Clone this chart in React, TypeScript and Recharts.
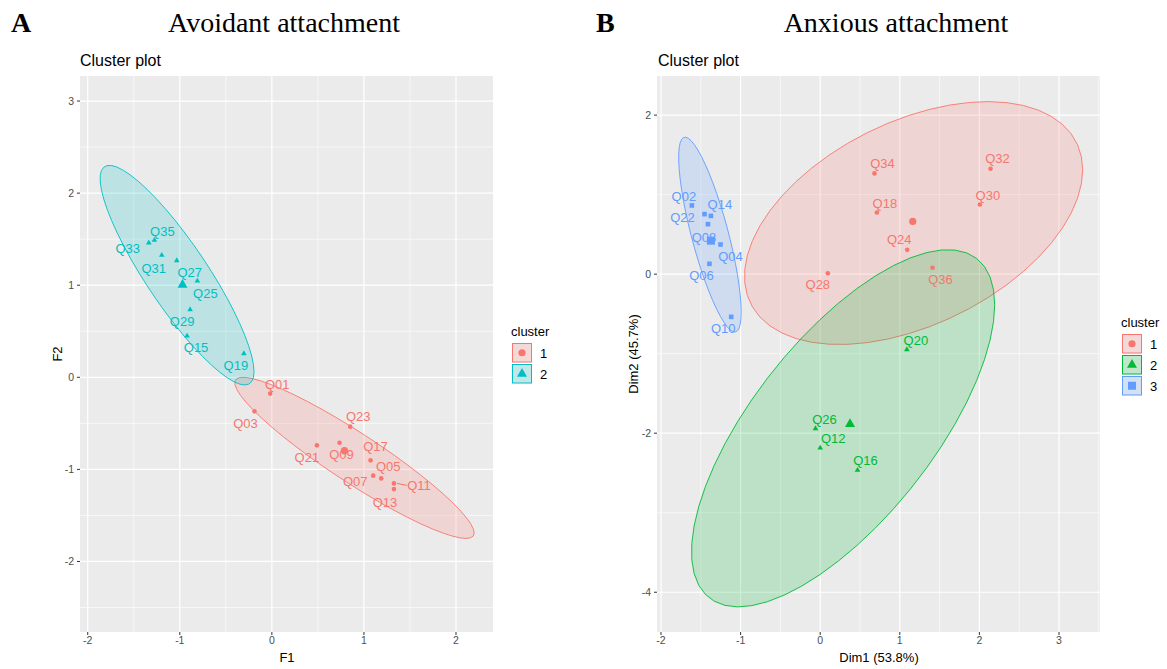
import React from 'react';
import { ScatterChart, Scatter, XAxis, YAxis, CartesianGrid } from 'recharts';

// ---- Avoidant attachment (F1 / F2) ----
const avoidLabels1 = ['Q01', 'Q03', 'Q23', 'Q21', 'Q09', 'Q17', 'Q07', 'Q05', 'Q11', 'Q13'];
const avoidX1 = [-0.018, -0.189, 0.851, 0.489, 0.735, 1.072, 1.101, 1.188, 1.326, 1.326];
const avoidY1 = [-0.177, -0.37, -0.536, -0.739, -0.71, -0.902, -1.068, -1.098, -1.152, -1.214];
const avoidLabels2 = ['Q35', 'Q33', 'Q31', 'Q27', 'Q25', 'Q29', 'Q15', 'Q19'];
const avoidX2 = [-1.276, -1.337, -1.196, -1.033, -0.809, -0.888, -0.921, -0.304];
const avoidY2 = [1.489, 1.46, 1.326, 1.268, 1.047, 0.736, 0.449, 0.258];

// ---- Anxious attachment (Dim1 / Dim2) ----
const anxLabels1 = ['Q34', 'Q32', 'Q30', 'Q18', 'Q24', 'Q36', 'Q28'];
const anxX1 = [0.682, 2.14, 2.006, 0.712, 1.093, 1.411, 0.096];
const anxY1 = [1.267, 1.325, 0.876, 0.776, 0.306, 0.08, 0.012];
const anxLabels2 = ['Q20', 'Q26', 'Q12', 'Q16'];
const anxX2 = [1.089, -0.059, 0, 0.469];
const anxY2 = [-0.948, -1.941, -2.185, -2.465];
const anxLabels3 = ['Q02', 'Q22', 'Q14', 'Q08', 'Q04', 'Q06', 'Q10'];
const anxX3 = [-1.612, -1.453, -1.373, -1.41, -1.252, -1.391, -1.118];
const anxY3 = [0.864, 0.755, 0.733, 0.629, 0.373, 0.13, -0.537];

const clusterNames2 = ['1', '2'];
const clusterNames3 = ['1', '2', '3'];
const avoidXTicks = [-2, -1, 0, 1, 2];
const avoidYTicks = [-2, -1, 0, 1, 2, 3];
const anxXTicks = [-2, -1, 0, 1, 2, 3];
const anxYTicks = [-4, -2, 0, 2];

// label placement (px, relative to point) - like ggrepel output
const labelOffset: Record<string, [number, number]> = {
  Q35: [8, -9], Q33: [-21, 6], Q31: [-8, 13], Q27: [13, 12], Q25: [8, 13], Q29: [-8, 12],
  Q15: [9, 12], Q19: [-8, 12], Q01: [7, -9], Q03: [-9, 12], Q23: [8, -10], Q21: [-10, 12],
  Q09: [2, 12], Q17: [5, -14], Q05: [7, -12], Q07: [-18, 6], Q11: [25, 2], Q13: [-9, 13],
  Q34: [8, -10], Q32: [7, -10], Q30: [8, -9], Q18: [8, -9], Q24: [-8, -10], Q36: [8, 12],
  Q28: [-10, 11], Q02: [-8, -9], Q14: [9, -11], Q22: [-22, 3], Q08: [-4, 13], Q04: [10, 12],
  Q06: [-8, 12], Q10: [-8, 12], Q20: [9, -9], Q26: [9, -9], Q12: [13, -9], Q16: [8, -10],
};

const RED = '#F8766D';
const FONT = '"Liberation Sans", Arial, sans-serif';
const SERIF = '"Liberation Serif", "Times New Roman", serif';

type Kind = 'circle' | 'triangle' | 'square';
type Pt = { x: number; y: number; label?: string };
type Cluster = { labels: string[]; xs: number[]; ys: number[]; color: string; kind: Kind };

const sum = (a: number[]) => a.reduce((s, v) => s + v, 0);
const mean = (a: number[]) => sum(a) / a.length;

// MASS::cov.trob (multivariate t), as used by stat_ellipse(type = "t")
function covTrob(xs: number[], ys: number[]) {
  const n = xs.length, p = 2, nu = 5, tol = 0.01;
  let lx = mean(xs), ly = mean(ys);
  let w = xs.map(() => 1);
  let dx: number[] = [], dy: number[] = [];
  for (let iter = 0; iter < 25; iter++) {
    const w0 = w;
    dx = xs.map(v => v - lx);
    dy = ys.map(v => v - ly);
    const sw = sum(w);
    let a = 0, b = 0, c = 0;
    for (let i = 0; i < n; i++) {
      const k = w[i] / sw;
      a += k * dx[i] * dx[i]; b += k * dx[i] * dy[i]; c += k * dy[i] * dy[i];
    }
    const det = a * c - b * b;
    const q = dx.map((u, i) => (c * u * u - 2 * b * u * dy[i] + a * dy[i] * dy[i]) / det);
    w = q.map(v => (nu + p) / (nu + v));
    const sw2 = sum(w);
    lx = sum(xs.map((v, i) => v * w[i])) / sw2;
    ly = sum(ys.map((v, i) => v * w[i])) / sw2;
    if (w.every((v, i) => Math.abs(v - w0[i]) < tol)) break;
  }
  let a = 0, b = 0, c = 0;
  for (let i = 0; i < n; i++) {
    a += w[i] * dx[i] * dx[i]; b += w[i] * dx[i] * dy[i]; c += w[i] * dy[i] * dy[i];
  }
  return { cx: lx, cy: ly, sxx: a / n, sxy: b / n, syy: c / n };
}

function ellipse(xs: number[], ys: number[], level = 0.95, segments = 51): Pt[] {
  const { cx, cy, sxx, sxy, syy } = covTrob(xs, ys);
  const d2 = xs.length - 1;
  const f = (d2 / 2) * (Math.pow(1 - level, -2 / d2) - 1); // qf(level, 2, d2)
  const r = Math.sqrt(2 * f);
  const r11 = Math.sqrt(sxx), r12 = sxy / r11, r22 = Math.sqrt(syy - r12 * r12);
  const out: Pt[] = [];
  for (let i = 0; i <= segments; i++) {
    const t = (i * 2 * Math.PI) / segments;
    const u = Math.cos(t), v = Math.sin(t);
    out.push({ x: cx + r * u * r11, y: cy + r * (u * r12 + v * r22) });
  }
  return out;
}

const toPoints = (c: Cluster): Pt[] => c.xs.map((x, i) => ({ x, y: c.ys[i], label: c.labels[i] }));
const centroid = (c: Cluster): Pt[] => [{ x: mean(c.xs), y: mean(c.ys) }];

function Marker({ kind, x, y, big, color }: { kind: Kind; x: number; y: number; big: boolean; color: string }) {
  if (kind === 'circle') return <circle cx={x} cy={y} r={big ? 3.6 : 2.3} fill={color} />;
  if (kind === 'square') {
    const s = big ? 8 : 4.6;
    return <rect x={x - s / 2} y={y - s / 2} width={s} height={s} fill={color} />;
  }
  const s = big ? 10 : 5.6;
  const h = s * 0.87;
  return <polygon points={`${x},${y - (2 * h) / 3} ${x - s / 2},${y + h / 3} ${x + s / 2},${y + h / 3}`} fill={color} />;
}

const pointShape = (c: Cluster, big: boolean) => (props: any) => {
  const { cx, cy, payload } = props;
  const off = payload && payload.label ? labelOffset[payload.label] || [0, -10] : null;
  return (
    <g>
      <Marker kind={c.kind} x={cx} y={cy} big={big} color={c.color} />
      {off && payload.label === 'Q11' && (
        <line x1={cx + 3} y1={cy} x2={cx + off[0] - 12} y2={cy + off[1]} stroke={c.color} strokeWidth={1} />
      )}
      {off && (
        <text x={cx + off[0]} y={cy + off[1]} textAnchor="middle" dominantBaseline="central"
          fontSize={13} fill={c.color} fontFamily={FONT}>{payload.label}</text>
      )}
    </g>
  );
};

const ellipseLine = (color: string) => (props: any) => {
  const pts = (props.points || []) as { x: number; y: number }[];
  const d = pts.map((p, i) => `${i ? 'L' : 'M'}${p.x},${p.y}`).join('') + 'Z';
  return <path d={d} fill={color} fillOpacity={0.2} stroke={color} strokeWidth={0.9} />;
};

const noShape = () => <g />;

function halfSteps(ticks: number[], lo: number, hi: number) {
  const step = ticks[1] - ticks[0];
  const out: number[] = [];
  for (let v = ticks[0] - step / 2; v <= hi; v += step) if (v >= lo) out.push(v);
  return out;
}

type PanelProps = {
  clusters: Cluster[]; xDomain: [number, number]; yDomain: [number, number];
  xTicks: number[]; yTicks: number[]; width: number; height: number;
  margin: { top: number; right: number; bottom: number; left: number };
};

function ClusterPanel({ clusters, xDomain, yDomain, xTicks, yTicks, width, height, margin }: PanelProps) {
  const tickStyle = { fontSize: 10.5, fill: '#4D4D4D', fontFamily: FONT };
  return (
    <ScatterChart width={width} height={height} margin={margin}>
      <CartesianGrid fill="#EBEBEB" stroke="#FFFFFF" strokeWidth={0.6}
        horizontalValues={halfSteps(yTicks, yDomain[0], yDomain[1])}
        verticalValues={halfSteps(xTicks, xDomain[0], xDomain[1])} />
      <CartesianGrid stroke="#FFFFFF" strokeWidth={1.2} horizontalValues={yTicks} verticalValues={xTicks} />
      <XAxis type="number" dataKey="x" domain={xDomain} allowDataOverflow ticks={xTicks} interval={0}
        height={1} axisLine={false} tickSize={3} tickMargin={2} tick={tickStyle}
        tickLine={{ stroke: '#333333' }} />
      <YAxis type="number" dataKey="y" domain={yDomain} allowDataOverflow ticks={yTicks} interval={0}
        width={1} axisLine={false} tickSize={3} tickMargin={3} tick={tickStyle}
        tickLine={{ stroke: '#333333' }} />
      {clusters.map((c, i) => (
        <Scatter key={`e${i}`} data={ellipse(c.xs, c.ys)} fill={c.color} line={ellipseLine(c.color)}
          lineType="joint" shape={noShape} isAnimationActive={false} />
      ))}
      {clusters.map((c, i) => (
        <Scatter key={`p${i}`} data={toPoints(c)} fill={c.color} shape={pointShape(c, false)} isAnimationActive={false} />
      ))}
      {clusters.map((c, i) => (
        <Scatter key={`c${i}`} data={centroid(c)} fill={c.color} shape={pointShape(c, true)} isAnimationActive={false} />
      ))}
    </ScatterChart>
  );
}

function LegendBox({ x, y, title, names, clusters }: { x: number; y: number; title: string; names: string[]; clusters: Cluster[] }) {
  return (
    <g>
      <text x={x} y={y} fontSize={13} fontFamily={FONT} fill="#000">{title}</text>
      {clusters.map((c, i) => {
        const ky = y + 7 + i * 21;
        return (
          <g key={i}>
            <rect x={x + 1} y={ky} width={20} height={19.5} fill="#F2F2F2" />
            <rect x={x + 1.5} y={ky + 0.5} width={19} height={18.5} fill={c.color} fillOpacity={0.2} stroke={c.color} strokeWidth={1} />
            <Marker kind={c.kind} x={x + 11} y={ky + 9.75} big color={c.color} />
            <text x={x + 29} y={ky + 14.5} fontSize={13} fontFamily={FONT} fill="#000">{names[i]}</text>
          </g>
        );
      })}
    </g>
  );
}

export default function App() {
  const avoid: Cluster[] = [
    { labels: avoidLabels1, xs: avoidX1, ys: avoidY1, color: RED, kind: 'circle' },
    { labels: avoidLabels2, xs: avoidX2, ys: avoidY2, color: '#00BFC4', kind: 'triangle' },
  ];
  const anx: Cluster[] = [
    { labels: anxLabels1, xs: anxX1, ys: anxY1, color: RED, kind: 'circle' },
    { labels: anxLabels2, xs: anxX2, ys: anxY2, color: '#00BA38', kind: 'triangle' },
    { labels: anxLabels3, xs: anxX3, ys: anxY3, color: '#619CFF', kind: 'square' },
  ];
  return (
    <div style={{ position: 'absolute', left: 0, top: 0, width: 1167, height: 669, background: '#fff', fontFamily: FONT, overflow: 'hidden' }}>
      <div style={{ position: 'absolute', left: 0, top: 0 }}>
        <ClusterPanel clusters={avoid} xDomain={[-2.084, 2.402]} yDomain={[-2.766, 3.272]}
          xTicks={avoidXTicks} yTicks={avoidYTicks} width={500} height={669}
          margin={{ top: 76, right: 7, bottom: 36, left: 79 }} />
      </div>
      <div style={{ position: 'absolute', left: 577, top: 0 }}>
        <ClusterPanel clusters={anx} xDomain={[-2.05, 3.515]} yDomain={[-4.5, 2.492]}
          xTicks={anxXTicks} yTicks={anxYTicks} width={530} height={669}
          margin={{ top: 76, right: 7, bottom: 36, left: 79 }} />
      </div>
      <svg width={1167} height={669} style={{ position: 'absolute', left: 0, top: 0, pointerEvents: 'none' }}>
        <text x={11} y={32} fontFamily={SERIF} fontWeight="bold" fontSize={28}>A</text>
        <text x={284} y={32} fontFamily={SERIF} fontSize={28} textAnchor="middle">Avoidant attachment</text>
        <text x={596} y={32} fontFamily={SERIF} fontWeight="bold" fontSize={28}>B</text>
        <text x={896} y={32} fontFamily={SERIF} fontSize={28} textAnchor="middle">Anxious attachment</text>

        <text x={80} y={66} fontFamily={FONT} fontSize={16}>Cluster plot</text>
        <text x={658} y={66} fontFamily={FONT} fontSize={16}>Cluster plot</text>

        <text x={287} y={662} fontFamily={FONT} fontSize={13} textAnchor="middle" fill="#000">F1</text>
        <text x={879} y={662} fontFamily={FONT} fontSize={13} textAnchor="middle" fill="#000">Dim1 (53.8%)</text>
        <text transform="translate(62,354) rotate(-90)" fontFamily={FONT} fontSize={13} textAnchor="middle" fill="#000">F2</text>
        <text transform="translate(638,354) rotate(-90)" fontFamily={FONT} fontSize={13} textAnchor="middle" fill="#000">Dim2 (45.7%)</text>

        <LegendBox x={511} y={336} title="cluster" names={clusterNames2} clusters={avoid} />
        <LegendBox x={1121} y={327} title="cluster" names={clusterNames3} clusters={anx} />
      </svg>
    </div>
  );
}
